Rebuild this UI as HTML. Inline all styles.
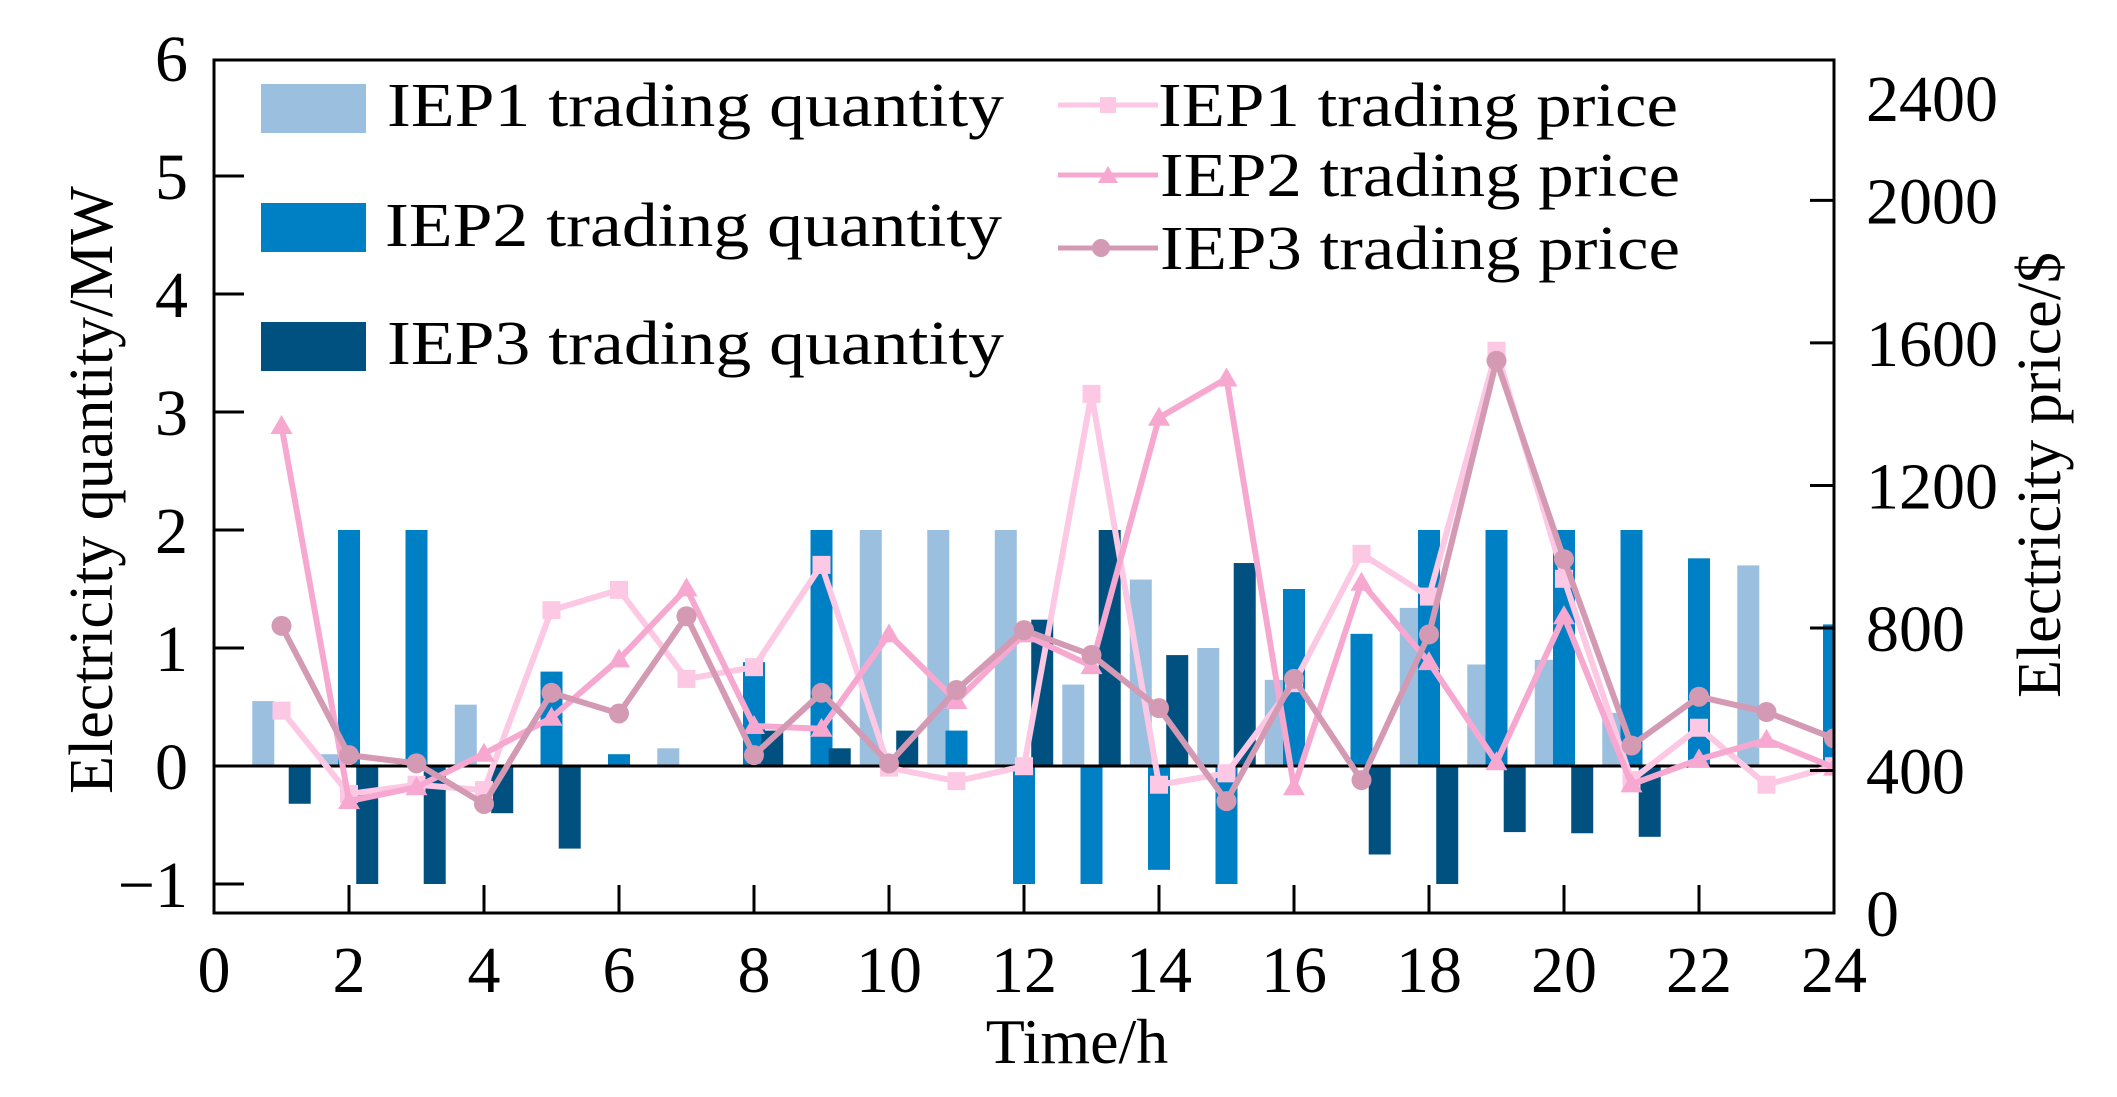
<!DOCTYPE html>
<html><head><meta charset="utf-8"><style>
html,body{margin:0;padding:0;background:#fff;}
svg{display:block;font-family:"Liberation Serif",serif;}
</style></head><body>
<svg id="chart" width="2117" height="1097" viewBox="0 0 2117 1097" xmlns="http://www.w3.org/2000/svg">
<defs><clipPath id="plotclip"><rect x="214" y="60" width="1620" height="853"/></clipPath></defs>
<g id="bars" clip-path="url(#plotclip)"></g>
<line x1="214" y1="766" x2="1834" y2="766" stroke="#000" stroke-width="3"/>
<g id="lines" clip-path="url(#plotclip)"></g>
<rect x="214" y="60" width="1620" height="853" fill="none" stroke="#000" stroke-width="3"/>
<g id="axes"></g>
<text x="0" y="0" transform="translate(112,490) rotate(-90)" text-anchor="middle" font-size="62">Electricity quantity/MW</text>
<text x="0" y="0" transform="translate(2060,475) rotate(-90)" text-anchor="middle" font-size="62">Electricity price/$</text>
<text x="1077" y="1063" text-anchor="middle" font-size="64">Time/h</text>
<g>
<rect x="261" y="84" width="105" height="49" fill="#9bbfdf"/>
<text x="387" y="126" font-size="62" textLength="617" lengthAdjust="spacingAndGlyphs">IEP1 trading quantity</text>
<rect x="261" y="203" width="105" height="49" fill="#0080c4"/>
<text x="385" y="246" font-size="62" textLength="617" lengthAdjust="spacingAndGlyphs">IEP2 trading quantity</text>
<rect x="261" y="322" width="105" height="49" fill="#005080"/>
<text x="387" y="364" font-size="62" textLength="617" lengthAdjust="spacingAndGlyphs">IEP3 trading quantity</text>
<line x1="1058" y1="105" x2="1158" y2="105" stroke="#fcc8e4" stroke-width="5"/>
<rect x="1100" y="97" width="16" height="16" fill="#fcc8e4"/>
<text x="1158" y="126" font-size="62" textLength="520" lengthAdjust="spacingAndGlyphs">IEP1 trading price</text>
<line x1="1058" y1="175" x2="1158" y2="175" stroke="#f7a8d0" stroke-width="5"/>
<polygon points="1098,183 1108,166 1118,183" fill="#f7a8d0"/>
<text x="1160" y="196" font-size="62" textLength="520" lengthAdjust="spacingAndGlyphs">IEP2 trading price</text>
<line x1="1058" y1="248" x2="1158" y2="248" stroke="#d49ab4" stroke-width="5"/>
<circle cx="1101" cy="248" r="9" fill="#d49ab4"/>
<text x="1160" y="269" font-size="62" textLength="520" lengthAdjust="spacingAndGlyphs">IEP3 trading price</text>
</g>
</svg>
<script>
const hours = [1,2,3,4,5,6,7,8,9,10,11,12,13,14,15,16,17,18,19,20,21,22,23,24];
const iep1Qty = [0.55,0.1,0,0.52,0,0,0.15,0,0,2,2,2,0.69,1.58,1.0,0.73,0,1.34,0.86,0.9,0.45,0,1.7,0];
const iep2Qty = [0,2,2,0,0.8,0.1,0,0.88,2,0,0.3,-1,-1,-0.88,-1,1.5,1.12,2,2,2,2,1.76,0,1.2];
const iep3Qty = [-0.32,-1,-1,-0.4,-0.7,0,0,0.3,0.15,0.3,0,1.24,2,0.94,1.72,0,-0.75,-1,-0.56,-0.57,-0.6,0,0,0];
const iep1Price = [568,334,360,345,850,907,657,690,977,408,370,412,1457,360,392,645,1008,888,1578,938,373,520,360,412];
const iep2Price = [1367,314,353,447,548,712,911,525,517,782,595,782,693,1390,1500,353,927,704,423,833,361,431,486,408];
const iep3Price = [806,443,420,306,618,560,833,443,618,420,626,794,724,575,314,657,373,782,1550,993,470,607,564,490];
const xTicks = [0,2,4,6,8,10,12,14,16,18,20,22,24];
const yLeftTicks = [-1,0,1,2,3,4,5,6];
const yRightTicks = [0,400,800,1200,1600,2000,2400];

const NS = "http://www.w3.org/2000/svg";
const X0 = 214, XPX = 67.5;
function xs(h){ return X0 + h*XPX; }
function yq(q){ return 766 - q*118; }
function yp(p){ return 913 - p*0.3563; }
function mk(tag, attrs, parent){ const e=document.createElementNS(NS,tag); for(const k in attrs) e.setAttribute(k,attrs[k]); parent.appendChild(e); return e; }

const bars = document.getElementById('bars');
const series = [[iep1Qty,-0.27,'#9bbfdf','iep1'],[iep2Qty,0,'#0080c4','iep2'],[iep3Qty,0.27,'#005080','iep3']];
series.forEach(([vals,off,col,nm])=>{
  vals.forEach((v,i)=>{
    if(v===0) return;
    const cx = xs(hours[i]+off), y1=yq(Math.max(v,0)), y2=yq(Math.min(v,0));
    const r = mk('rect',{x:cx-11,y:y1,width:22,height:y2-y1,fill:col},bars);
    
    
  });
});

const lines = document.getElementById('lines');
const pser = [[iep1Price,'#fcc8e4','square','iep1'],[iep2Price,'#f7a8d0','tri','iep2'],[iep3Price,'#d49ab4','circle','iep3']];
pser.forEach(([vals,col,shape,nm])=>{
  const pts = vals.map((v,i)=>xs(hours[i])+','+yp(v)).join(' ');
  const pl = mk('polyline',{points:pts,fill:'none',stroke:col,'stroke-width':6,'stroke-linejoin':'round'},lines);
  
  
  vals.forEach((v,i)=>{
    const cx=xs(hours[i]), cy=yp(v); let m;
    if(shape==='square') m=mk('rect',{x:cx-9,y:cy-9,width:18,height:18,fill:col},lines);
    else if(shape==='tri') m=mk('polygon',{points:(cx-11)+','+(cy+8)+' '+cx+','+(cy-11)+' '+(cx+11)+','+(cy+8),fill:col},lines);
    else m=mk('circle',{cx:cx,cy:cy,r:10,fill:col},lines);
    
    
  });
});

const axes = document.getElementById('axes');
xTicks.forEach(t=>{
  const x=xs(t);
  if(t>0 && t<24){ const l=mk('line',{x1:x,y1:913,x2:x,y2:885,stroke:'#000','stroke-width':3},axes);
    
     }
  const tx=mk('text',{x:x,y:992,'text-anchor':'middle','font-size':66},axes); tx.textContent=t;
  
  
});
yLeftTicks.forEach(t=>{
  const y=yq(t);
  if(t!==0 && t!==6){ const l=mk('line',{x1:214,y1:y,x2:244,y2:y,stroke:'#000','stroke-width':3},axes);
    
     }
  const tx=mk('text',{x:188,y:y+23,'text-anchor':'end','font-size':66},axes); tx.textContent=(t<0?'\u2212'+(-t):t);
  
  
});
yRightTicks.forEach(t=>{
  const y=yp(t);
  if(t>0 && t<2400){ const l=mk('line',{x1:1834,y1:y,x2:1810,y2:y,stroke:'#000','stroke-width':3},axes);
    
     }
  let ty = y+23; if(t===2400) ty=y+63;
  const tx=mk('text',{x:1866,y:ty,'font-size':66},axes); tx.textContent=t;
  
  
});
</script>
</body></html>
